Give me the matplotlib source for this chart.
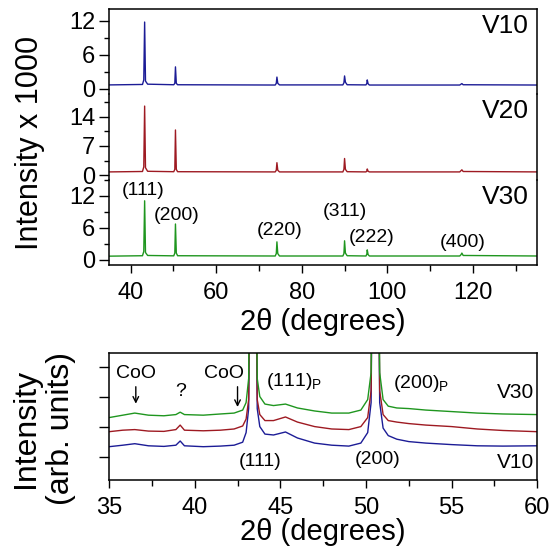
import numpy as np
import matplotlib
matplotlib.use('Agg')
import matplotlib.pyplot as plt
from matplotlib.ticker import MultipleLocator

plt.rcParams['font.family'] = ['Liberation Sans', 'DejaVu Sans']

# ---- top panels: full XRD patterns (intensity x 1000) ----
top_2theta = [35, 42.8, 43.1, 43.3, 43.5, 44.0,
              50.1, 50.35, 50.5, 50.7, 51.0,
              73.8, 74.05, 74.2, 74.4, 74.8,
              89.6, 89.85, 90.0, 90.2, 90.6,
              95.0, 95.2, 95.3, 95.5, 95.8,
              116.9, 117.2, 117.4, 117.7, 135]
v10_top = [0.72, 0.8, 1.6, 11.8, 1.4, 0.85,
           0.75, 1.0, 3.9, 1.0, 0.75,
           0.7, 1.0, 2.1, 1.0, 0.72,
           0.72, 1.1, 2.3, 1.2, 0.75,
           0.72, 1.0, 1.6, 0.9, 0.7,
           0.7, 0.85, 0.95, 0.75, 0.7]
v20_top = [0.8, 0.9, 2.0, 16.5, 1.8, 0.95,
           0.85, 1.4, 10.8, 1.4, 0.85,
           0.8, 1.2, 3.0, 1.2, 0.8,
           0.8, 1.4, 4.0, 1.4, 0.85,
           0.8, 1.0, 1.5, 0.95, 0.8,
           0.8, 1.1, 1.3, 0.9, 0.8]
v30_top = [0.72, 0.8, 1.6, 11.1, 1.4, 0.85,
           0.78, 1.3, 6.75, 1.3, 0.8,
           0.75, 1.2, 3.4, 1.2, 0.75,
           0.75, 1.2, 3.6, 1.3, 0.8,
           0.75, 1.1, 1.9, 1.0, 0.75,
           0.75, 1.0, 1.3, 0.85, 0.75]

# ---- bottom panel: zoom 35-60 deg (arb. units) ----
bot_2theta = [35.0, 35.8, 36.5, 37.3, 38.2, 38.9, 39.15, 39.4, 40.5, 41.5,
              42.3, 42.8, 43.0, 43.15, 43.4, 43.65, 43.8, 44.1, 44.6, 45.3,
              46.0, 47.0, 48.0, 49.0, 49.7, 50.1, 50.3, 50.55, 50.8, 51.0,
              51.3, 51.8, 52.5, 53.5, 55.0, 56.5, 58.0, 60.0]
v10_bot = [0.33, 0.38, 0.43, 0.36, 0.34, 0.38, 0.52, 0.36, 0.33, 0.35,
           0.38, 0.48, 0.8, 1.6, 20, 1.6, 1.0, 0.75, 0.72, 0.82,
           0.62, 0.45, 0.38, 0.35, 0.45, 0.8, 1.8, 20, 1.8, 0.95,
           0.7, 0.58, 0.5, 0.45, 0.4, 0.36, 0.35, 0.36]
v20_bot = [0.83, 0.88, 0.9, 0.85, 0.84, 0.9, 1.05, 0.88, 0.86, 0.88,
           0.92, 1.02, 1.25, 1.9, 20, 1.9, 1.4, 1.2, 1.2, 1.32,
           1.15, 1.0, 0.92, 0.9, 1.0, 1.3, 2.2, 20, 2.2, 1.4,
           1.2, 1.15, 1.1, 1.05, 1.0, 0.92, 0.87, 0.83]
v30_bot = [1.3, 1.38, 1.45, 1.38, 1.36, 1.4, 1.48, 1.4, 1.38, 1.42,
           1.45, 1.55, 1.8, 2.6, 20, 2.6, 2.0, 1.75, 1.7, 1.75,
           1.62, 1.52, 1.45, 1.45, 1.55, 1.9, 2.8, 20, 2.8, 1.9,
           1.68, 1.62, 1.6, 1.55, 1.5, 1.45, 1.42, 1.4]

blue = '#1c1c96'
red = '#9e1a22'
green = '#1f961f'

fig = plt.figure(figsize=(5.51, 5.55), dpi=100)

left, width = 0.198, 0.777
top_bottom, top_height = 0.5225, 0.4613
h3 = top_height / 3


def style_ticks(ax):
    ax.tick_params(axis='y', which='major', direction='out', length=7, width=1.0,
                   labelsize=17, pad=3)
    ax.tick_params(axis='y', which='minor', direction='out', length=3.5, width=1.0)
    ax.tick_params(axis='x', which='major', direction='out', length=6, width=1.0,
                   labelsize=17, pad=6)
    ax.tick_params(axis='x', which='minor', direction='out', length=4.5, width=1.0)


panels = [
    ('V10', v10_top, blue, (-0.94, 14.1), 6),
    ('V20', v20_top, red, (-1.05, 19.3), 7),
    ('V30', v30_top, green, (-0.94, 15.06), 6),
]
axes_top = []
for i, (name, vals, col, ylim, step) in enumerate(panels):
    ax = fig.add_axes([left, top_bottom + (2 - i) * h3, width, h3])
    ax.plot(top_2theta, vals, color=col, lw=1.0)
    ax.set_xlim(35, 135)
    ax.set_ylim(*ylim)
    ax.yaxis.set_major_locator(MultipleLocator(step))
    ax.yaxis.set_minor_locator(MultipleLocator(step / 2))
    ax.xaxis.set_major_locator(MultipleLocator(20))
    ax.xaxis.set_minor_locator(MultipleLocator(10))
    ax.patch.set_alpha(0)
    for s in ['left', 'right', 'top', 'bottom']:
        ax.spines[s].set_linewidth(1.1)
    if i != 0:
        ax.spines['top'].set_visible(False)
    style_ticks(ax)
    if i != 2:
        ax.spines['bottom'].set_visible(False)
        ax.tick_params(axis='x', which='both', bottom=False, labelbottom=False)
    ax.text(0.98, 0.8, name, transform=ax.transAxes, ha='right', va='center', fontsize=19)
    axes_top.append(ax)

ax3 = axes_top[2]
peak_labels = [('(111)', 42.9, 13.1), ('(200)', 50.8, 8.25), ('(220)', 74.9, 5.6),
               ('(311)', 90.1, 9.0), ('(222)', 96.4, 4.3), ('(400)', 117.5, 3.2)]
for lab, x, y in peak_labels:
    ax3.text(x, y, lab, ha='center', va='center', fontsize=14)

fig.text(0.054, 0.742, 'Intensity x 1000', rotation=90, ha='center', va='center', fontsize=22)
fig.text(0.586, 0.42, '2\u03b8 (degrees)', ha='center', va='center', fontsize=21)

# bottom panel
axb = fig.add_axes([left, 0.1351, width, 0.2288])
axb.plot(bot_2theta, v10_bot, color=blue, lw=1.0)
axb.plot(bot_2theta, v20_bot, color=red, lw=1.0)
axb.plot(bot_2theta, v30_bot, color=green, lw=1.0)
axb.set_xlim(35, 60)
axb.set_ylim(-0.78, 3.45)
axb.set_yticks([0, 1, 2, 3])
axb.set_yticklabels([])
axb.xaxis.set_major_locator(MultipleLocator(5))
axb.xaxis.set_minor_locator(MultipleLocator(2.5))
for s in ['left', 'right', 'top', 'bottom']:
    axb.spines[s].set_linewidth(1.1)
style_ticks(axb)

axb.text(36.6, 2.78, 'CoO', ha='center', va='center', fontsize=14)
axb.annotate('', xy=(36.56, 1.67), xytext=(36.56, 2.42),
             arrowprops=dict(arrowstyle='->', color='black', lw=1.0))
axb.text(39.2, 2.17, '?', ha='center', va='center', fontsize=14)
axb.text(41.7, 2.78, 'CoO', ha='center', va='center', fontsize=14)
axb.annotate('', xy=(42.5, 1.56), xytext=(42.5, 2.42),
             arrowprops=dict(arrowstyle='->', color='black', lw=1.0))
axb.text(45.8, 2.49, '(111)$_\\mathregular{P}$', ha='center', va='center', fontsize=14)
axb.text(53.2, 2.42, '(200)$_\\mathregular{P}$', ha='center', va='center', fontsize=14)
axb.text(59.8, 2.12, 'V30', ha='right', va='center', fontsize=15)
axb.text(59.8, -0.21, 'V10', ha='right', va='center', fontsize=15)
axb.text(43.8, -0.17, '(111)', ha='center', va='center', fontsize=14)
axb.text(50.7, -0.11, '(200)', ha='center', va='center', fontsize=14)

fig.text(0.079, 0.228, 'Intensity\n(arb. units)', rotation=90, ha='center', va='center',
         fontsize=23, linespacing=1.2)
fig.text(0.586, 0.041, '2\u03b8 (degrees)', ha='center', va='center', fontsize=21)

fig.savefig('out.png', dpi=100)
